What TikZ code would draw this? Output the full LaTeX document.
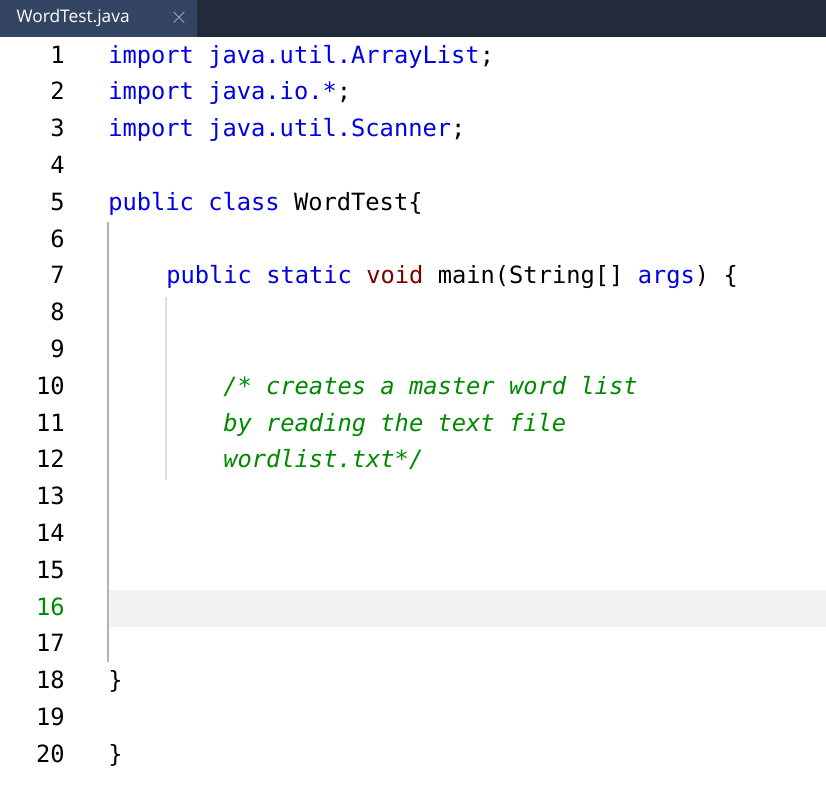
\documentclass[tikz,border=0pt]{standalone}
\usepackage{fontspec}
\setmonofont{DejaVu Sans Mono}
\newfontfamily\tabfont{Open Sans}
\begin{document}
\begin{tikzpicture}[x=0.75pt,y=-0.75pt,
 code/.style={anchor=base west,inner sep=0pt,font=\ttfamily\fontsize{17.8pt}{20pt}\selectfont},
 num/.style={anchor=base east,inner sep=0pt,font=\ttfamily\fontsize{17.8pt}{20pt}\selectfont}]
\definecolor{kw}{HTML}{0000E6}
\definecolor{vd}{HTML}{7A0000}
\definecolor{cm}{HTML}{008A00}
\definecolor{bar}{HTML}{222B3A}
\definecolor{tabc}{HTML}{344563}
\definecolor{xc}{HTML}{AAB2BE}
\definecolor{hl}{HTML}{F2F2F2}
\useasboundingbox (0,0) rectangle (826,796);
\fill[white] (0,0) rectangle (826,796);
\fill[bar] (0,0) rectangle (826,37);
\fill[tabc] (0,0) rectangle (197,37);
\node[anchor=west,text=white,font=\tabfont\fontsize{13pt}{15pt}\selectfont] (tab) at (12,18) {WordTest.java};
\node[text=xc,font=\fontsize{16pt}{16pt}\selectfont] (x) at (179,18) {$\times$};
\fill[hl] (108,590) rectangle (826,627);
\draw[gray!60,line width=1.2pt] (108,222) -- (108,662);
\draw[gray!25,line width=1pt] (166,297) -- (166,480);
\foreach \i in {1,...,20}{
 \pgfmathsetmacro\yy{63+(\i-1)*36.8}
 \ifnum\i=16 \node[num,text=cm] at (65,\yy) {\i};\else\node[num] at (65,\yy) {\i};\fi}
\newcommand\ly[1]{63+(#1-1)*36.8}
\node[code] (l1) at (108,{\ly{1}}) {\textcolor{kw}{import java.util.ArrayList};};
\node[code] (l2) at (108,{\ly{2}}) {\textcolor{kw}{import java.io.*};};
\node[code] (l3) at (108,{\ly{3}}) {\textcolor{kw}{import java.util.Scanner};};
\node[code] (l5) at (108,{\ly{5}}) {\textcolor{kw}{public class} WordTest\{};
\node[code] (l7) at (166,{\ly{7}}) {\textcolor{kw}{public static} \textcolor{vd}{void} main(String[] \textcolor{kw}{args}) \{};
\node[code,text=cm] (l10) at (223,{\ly{10}}) {\itshape /* creates a master word list};
\node[code,text=cm] (l11) at (223,{\ly{11}}) {\itshape by reading the text file};
\node[code,text=cm] (l12) at (223,{\ly{12}}) {\itshape wordlist.txt*/};
\node[code] (l18) at (108,{\ly{18}}) {\}};
\node[code] (l20) at (108,{\ly{20}}) {\}};
\end{tikzpicture}
\end{document}
